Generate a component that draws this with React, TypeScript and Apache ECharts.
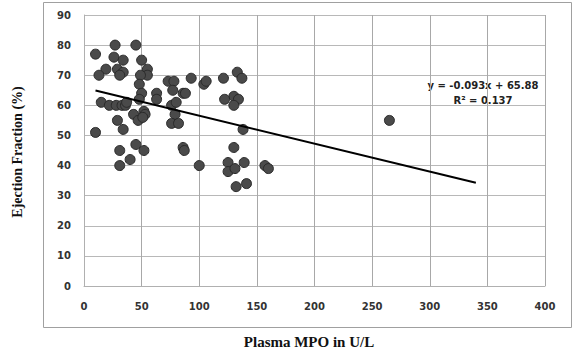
import React, { useEffect, useRef } from "react";
import * as echarts from "echarts";

const mpoValues = [
  10, 27, 45, 26, 34, 19, 13, 29, 34, 31, 50, 55, 55, 49, 48, 50, 48, 15, 22, 28,
  33, 36, 37, 52, 53, 43, 47, 51, 29, 34, 10, 31, 45, 52, 40, 31, 63, 63,
  73, 78, 77, 86, 88, 93, 76, 80, 79, 76, 82, 86, 87, 100, 104, 106, 121, 133,
  137, 130, 122, 134, 130, 138, 130, 125, 125, 131, 139, 157, 160, 132, 141, 265,
];
const efValues = [
  77, 80, 80, 76, 75, 72, 70, 72, 71, 70, 75, 72, 70, 70, 67, 64, 62, 61, 60, 60,
  60, 60, 61, 58, 57, 57, 55, 56, 55, 52, 51, 45, 47, 45, 42, 40, 64, 62,
  68, 68, 65, 64, 64, 69, 60, 61, 57, 54, 54, 46, 45, 40, 67, 68, 69, 71,
  69, 63, 62, 62, 60, 52, 46, 41, 38, 39, 41, 40, 39, 33, 34, 55,
];
const trendSlope = -0.093;
const trendIntercept = 65.88;
const trendRangeX = [10, 340];
const xTicks = [0, 50, 100, 150, 200, 250, 300, 350, 400];
const yTicks = [0, 10, 20, 30, 40, 50, 60, 70, 80, 90];
const equationText = "y = -0.093x + 65.88";
const r2Text = "R² = 0.137";
const xTitle = "Plasma MPO in U/L";
const yTitle = "Ejection Fraction (%)";

export default function App() {
  const ref = useRef<HTMLDivElement>(null);
  useEffect(() => {
    if (!ref.current) return;
    const chart = echarts.init(ref.current, undefined, { renderer: "svg" });
    const points = mpoValues.map((x, i) => [x, efValues[i]]);
    const trend = trendRangeX.map((x) => [x, trendIntercept + trendSlope * x]);
    const labelStyle = {
      color: "#333",
      fontFamily: "DejaVu Sans",
      fontSize: 10,
      fontWeight: "bold" as const,
    };
    chart.setOption({
      animation: false,
      backgroundColor: "#fff",
      grid: { left: 84, right: 28, top: 15, bottom: 71, containLabel: false },
      xAxis: {
        type: "value",
        min: xTicks[0],
        max: xTicks[xTicks.length - 1],
        interval: 50,
        axisLine: { show: true, lineStyle: { color: "#b0b0b0" } },
        axisTick: { show: false },
        splitLine: { show: true, lineStyle: { color: "#a8a8a8", width: 1 } },
        axisLabel: { ...labelStyle, margin: 15 },
      },
      yAxis: {
        type: "value",
        min: yTicks[0],
        max: yTicks[yTicks.length - 1],
        interval: 10,
        axisLine: { show: true, lineStyle: { color: "#b0b0b0" } },
        axisTick: { show: false },
        splitLine: { show: true, lineStyle: { color: "#b8b8b8", width: 1 } },
        axisLabel: { ...labelStyle, margin: 13 },
      },
      series: [
        {
          type: "scatter",
          data: points,
          symbol: "circle",
          symbolSize: 10,
          itemStyle: { color: "#4a4a4a", borderColor: "#2a2a2a", borderWidth: 1, opacity: 1 },
          z: 3,
        },
        {
          type: "line",
          data: trend,
          symbol: "none",
          lineStyle: { color: "#000", width: 2 },
          z: 4,
        },
      ],
      graphic: [
        {
          type: "rect",
          shape: { x: 43.5, y: 2.5, width: 528, height: 325 },
          style: { fill: "none", stroke: "#a0a0a0", lineWidth: 1 },
          silent: true,
        },
        {
          type: "text",
          x: 483,
          y: 85,
          style: {
            text: equationText,
            fill: "#222",
            font: "bold 10px 'DejaVu Sans'",
            align: "center",
            verticalAlign: "middle",
          },
        },
        {
          type: "text",
          x: 483,
          y: 100,
          style: {
            text: r2Text,
            fill: "#222",
            font: "bold 10px 'DejaVu Sans'",
            align: "center",
            verticalAlign: "middle",
          },
        },
        {
          type: "text",
          x: 309,
          y: 342,
          style: {
            text: xTitle,
            fill: "#111",
            font: "bold 15px 'Liberation Serif'",
            align: "center",
            verticalAlign: "middle",
          },
        },
        {
          type: "text",
          x: 17,
          y: 152,
          rotation: Math.PI / 2,
          style: {
            text: yTitle,
            fill: "#111",
            font: "bold 14px 'Liberation Serif'",
            align: "center",
            verticalAlign: "middle",
          },
        },
      ],
    });
    return () => chart.dispose();
  }, []);
  return (
    <div
      ref={ref}
      style={{ position: "fixed", left: 0, top: 0, width: 573, height: 357 }}
    />
  );
}
